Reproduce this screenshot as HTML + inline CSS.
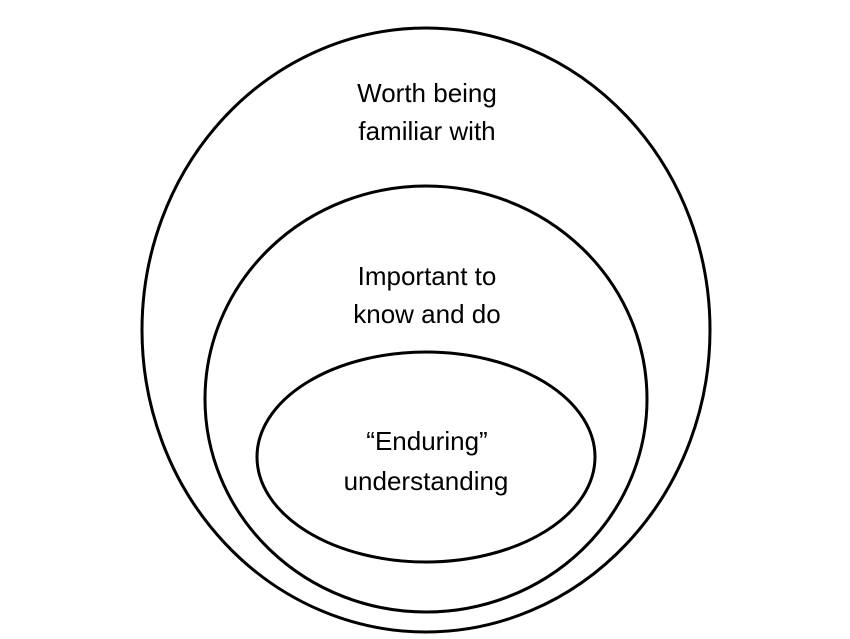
<!DOCTYPE html>
<html><head><meta charset="utf-8"><style>
html,body{margin:0;padding:0;background:#fff;}
</style></head><body>
<svg width="850" height="634" viewBox="0 0 850 634" xmlns="http://www.w3.org/2000/svg">
<g fill="none" stroke="#000" stroke-width="3">
<ellipse cx="426" cy="330" rx="284" ry="302"/>
<ellipse cx="426" cy="399" rx="221" ry="213"/>
<ellipse cx="426" cy="457" rx="169" ry="105"/>
</g>
<g font-family="Liberation Sans, sans-serif" font-size="26" text-anchor="middle" fill="#000">
<text x="427" y="102">Worth being</text>
<text x="427" y="140">familiar with</text>
<text x="427" y="285">Important to</text>
<text x="427" y="323">know and do</text>
<text x="427" y="450">“Enduring”</text>
<text x="426" y="490">understanding</text>
</g>
</svg>
</body></html>
